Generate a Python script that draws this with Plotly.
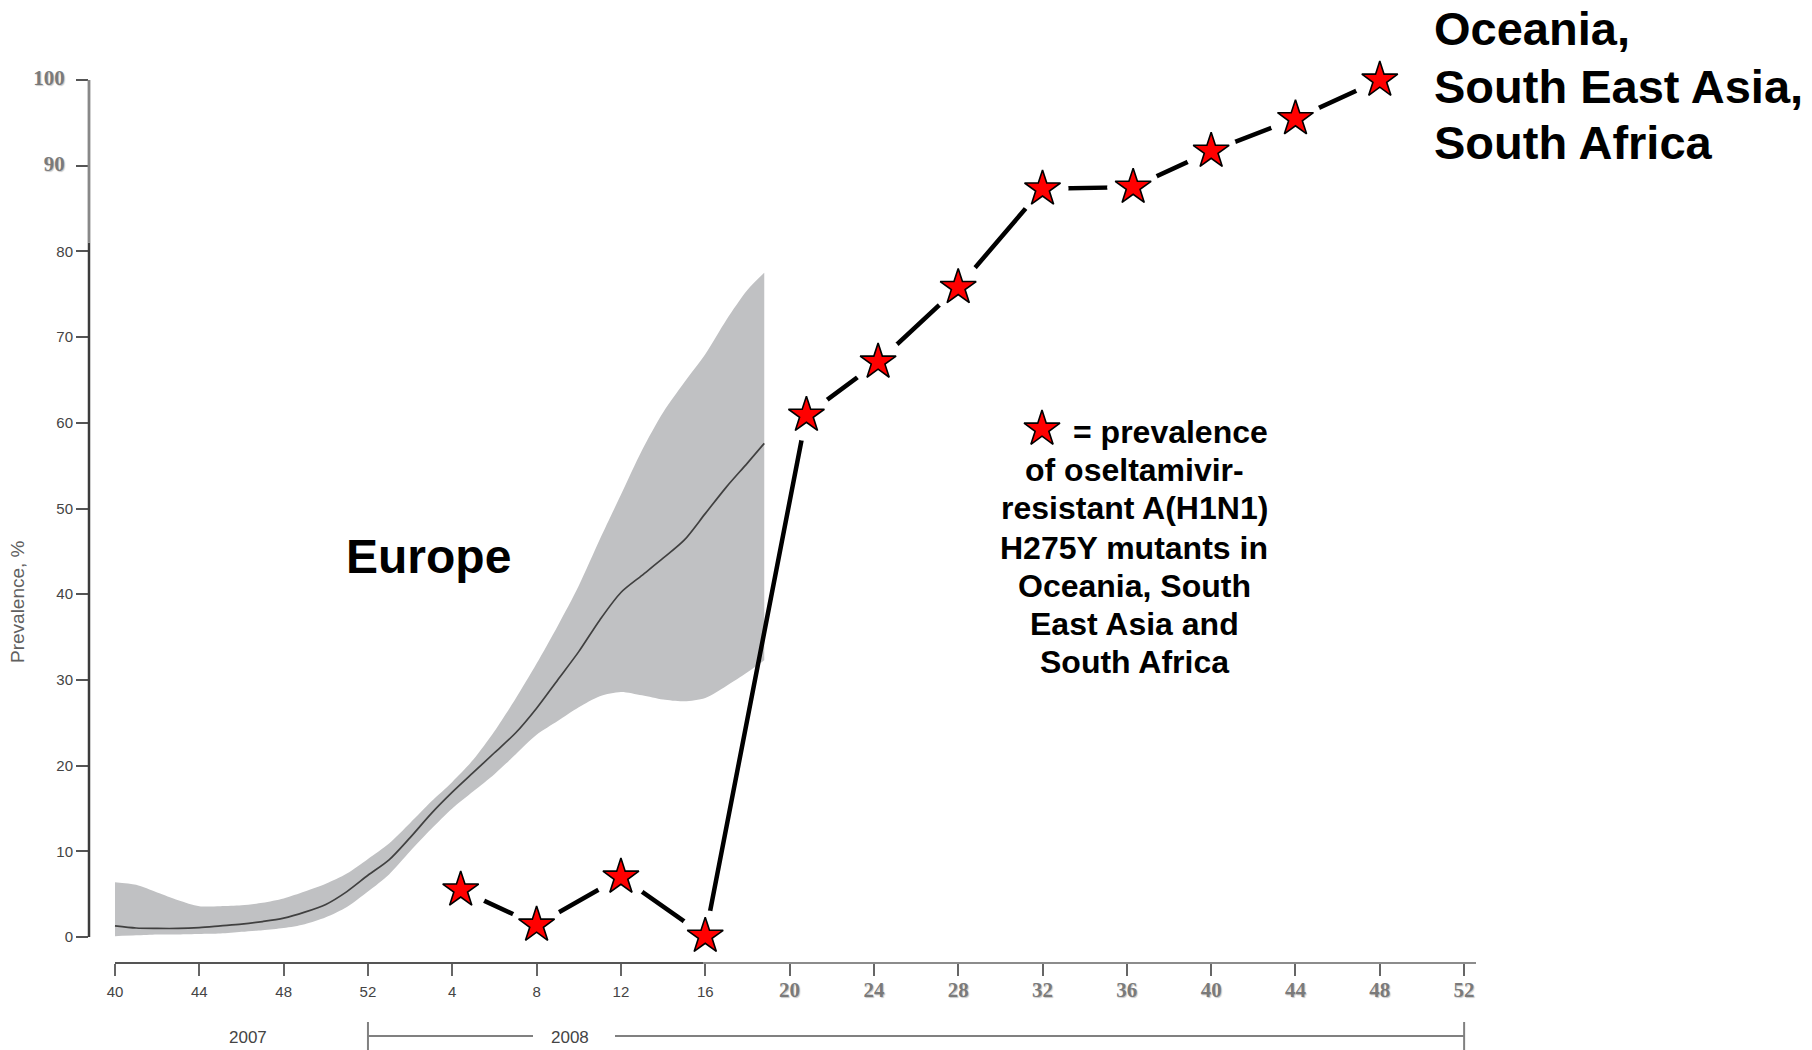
import plotly.graph_objects as go

# ------------------------------------------------------------------ data
x_tick_years = [2007, 2007, 2007, 2007] + [2008] * 13
x_tick_weeks = [40, 44, 48, 52, 4, 8, 12, 16, 20, 24, 28, 32, 36, 40, 44, 48, 52]
y_tick_values = [0, 10, 20, 30, 40, 50, 60, 70, 80, 90, 100]

# Europe: modelled prevalence (median and uncertainty band), %
europe_year = [2007] * 13 + [2008] * 19
europe_week = list(range(40, 53)) + list(range(1, 19)) + [18.8]
europe_upper = [6.4, 6.1, 5.2, 4.3, 3.6, 3.6, 3.7, 4.0, 4.5, 5.3, 6.2, 7.4, 9.1,
                10.9, 13.3, 15.8, 18.1, 20.7, 24.0, 27.8, 31.9, 36.3, 41.0, 46.4,
                51.6, 56.8, 61.2, 64.7, 68.0, 72.0, 75.5, 77.5]
europe_median = [1.3, 1.05, 1.0, 1.0, 1.1, 1.3, 1.5, 1.8, 2.2, 2.9, 3.8, 5.3, 7.2,
                 9.0, 11.6, 14.4, 16.9, 19.2, 21.5, 23.8, 26.7, 30.0, 33.3, 37.0,
                 40.2, 42.2, 44.2, 46.3, 49.4, 52.5, 55.3, 57.6]
europe_lower = [0.1, 0.2, 0.3, 0.3, 0.35, 0.4, 0.6, 0.8, 1.05, 1.5, 2.3, 3.5, 5.3,
                7.3, 10.0, 12.6, 15.0, 17.0, 19.0, 21.3, 23.6, 25.2, 26.8, 28.1,
                28.6, 28.2, 27.7, 27.5, 27.9, 29.3, 30.9, 32.3]

# Oceania, South East Asia, South Africa: observed prevalence (2008 weeks), %
star_year = [2008] * 12
star_week = [4.4, 8, 12, 16, 20.8, 24.2, 28, 32, 36.3, 40, 44, 48]
star_prevalence = [5.5, 1.4, 7.0, 0.1, 60.9, 67.1, 75.8, 87.3, 87.5, 91.7, 95.5, 100.0]


def week_index(year, week):
    """Continuous week scale starting at week 40 of 2007."""
    return (year - 2007) * 52 + week - 40


# ------------------------------------------------------------------ layout geometry
W, H = 1812, 1050
L, R, T, B = 89, 1476, 60, 963          # plot area in pixels
X_ORIGIN_PX, X_PX_PER_WEEK = 115, 21.08  # axis calibration
Y_ZERO_PX, Y_PX_PER_UNIT = 937, 8.57

x_range = [(L - X_ORIGIN_PX) / X_PX_PER_WEEK, (R - X_ORIGIN_PX) / X_PX_PER_WEEK]
y_range = [-(B - Y_ZERO_PX) / Y_PX_PER_UNIT, (Y_ZERO_PX - T) / Y_PX_PER_UNIT]


def px_x(px):
    return (px - L) / (R - L)


def px_y(py):
    return (B - py) / (B - T)


def y_to_paper(v):
    return (v - y_range[0]) / (y_range[1] - y_range[0])


def px_to_week(px):
    return (px - X_ORIGIN_PX) / X_PX_PER_WEEK


eu_x = [week_index(y, w) for y, w in zip(europe_year, europe_week)]
st_x = [week_index(y, w) for y, w in zip(star_year, star_week)]
tick_x = [week_index(y, w) for y, w in zip(x_tick_years, x_tick_weeks)]

SERIF = ("font-family:Liberation Serif;font-weight:bold;font-size:21px;"
         "color:#7a7a7a;text-shadow:1px 1px 1px #c8c8c8")

x_ticktext = []
for yv, wv in zip(x_tick_years, x_tick_weeks):
    if yv == 2008 and wv >= 20:
        x_ticktext.append(f'<span style="{SERIF}">{wv}</span>')
    else:
        x_ticktext.append(str(wv))

y_ticktext = []
for v in y_tick_values:
    if v >= 90:
        y_ticktext.append(f'<span style="{SERIF}">{v}</span>\u00a0\u00a0')
    else:
        y_ticktext.append(str(v))

fig = go.Figure()

# Europe band
fig.add_trace(go.Scatter(x=eu_x, y=europe_lower, mode="lines",
                         line=dict(width=0, shape="spline", smoothing=0.8),
                         hoverinfo="skip", showlegend=False))
fig.add_trace(go.Scatter(x=eu_x, y=europe_upper, mode="lines",
                         line=dict(width=0, shape="spline", smoothing=0.8),
                         fill="tonexty", fillcolor="#c0c1c3", showlegend=False))
fig.add_trace(go.Scatter(x=eu_x, y=europe_median, mode="lines",
                         line=dict(color="#404040", width=1.7, shape="spline", smoothing=0.8),
                         showlegend=False))

# Stars: connecting line, white gap mask, stars
fig.add_trace(go.Scatter(x=st_x, y=star_prevalence, mode="lines",
                         line=dict(color="black", width=4.5), showlegend=False,
                         cliponaxis=False))
fig.add_trace(go.Scatter(x=st_x, y=star_prevalence, mode="markers",
                         marker=dict(symbol="circle", size=52, color="white",
                                     line=dict(width=0)),
                         hoverinfo="skip", showlegend=False, cliponaxis=False))
fig.add_trace(go.Scatter(x=st_x, y=star_prevalence, mode="markers",
                         marker=dict(symbol="star", size=27, color="#ff0000",
                                     line=dict(color="black", width=1.6)),
                         showlegend=False, cliponaxis=False))

# legend key star (overlay axes in 0..1 units)
fig.add_trace(go.Scatter(x=[px_x(1042)], y=[px_y(429)], mode="markers",
                         marker=dict(symbol="star", size=27, color="#ff0000",
                                     line=dict(color="black", width=1.6)),
                         xaxis="x2", yaxis="y2", showlegend=False, cliponaxis=False))

shapes = [
    # y axis line
    dict(type="line", xref="paper", yref="paper", x0=0, x1=0,
         y0=y_to_paper(0), y1=y_to_paper(81),
         line=dict(color="#3c3c3c", width=2.5)),
    dict(type="line", xref="paper", yref="paper", x0=0, x1=0,
         y0=y_to_paper(81), y1=y_to_paper(100),
         line=dict(color="#888888", width=2.8)),
    # x axis line
    dict(type="line", xref="x", yref="paper", x0=0, x1=px_to_week(703), y0=0, y1=0,
         line=dict(color="#555555", width=2)),
    dict(type="line", xref="x", yref="paper", x0=px_to_week(703), x1=x_range[1], y0=0, y1=0,
         line=dict(color="#8c8c8c", width=2)),
    # 2008 bracket
    dict(type="line", xref="x", yref="paper", x0=week_index(2007, 52), x1=px_to_week(533),
         y0=px_y(1036), y1=px_y(1036), line=dict(color="#808080", width=2)),
    dict(type="line", xref="x", yref="paper", x0=px_to_week(615), x1=week_index(2008, 52),
         y0=px_y(1036), y1=px_y(1036), line=dict(color="#808080", width=2)),
    dict(type="line", xref="x", yref="paper", x0=week_index(2007, 52), x1=week_index(2007, 52),
         y0=px_y(1022), y1=px_y(1050), line=dict(color="#808080", width=2)),
    dict(type="line", xref="x", yref="paper", x0=week_index(2008, 52), x1=week_index(2008, 52),
         y0=px_y(1022), y1=px_y(1050), line=dict(color="#808080", width=2)),
]

SANS = "Liberation Sans"
annotations = [
    dict(text="<b>Europe</b>", x=px_x(428), y=px_y(556), xref="paper", yref="paper",
         showarrow=False, font=dict(family=SANS, size=48, color="black"),
         xanchor="center", yanchor="middle"),
    dict(text="Prevalence, %", x=px_x(17), y=px_y(602), xref="paper", yref="paper",
         showarrow=False, textangle=-90, font=dict(family=SANS, size=19, color="#606060"),
         xanchor="center", yanchor="middle"),
    dict(text="2007", x=px_x(248), y=px_y(1037), xref="paper", yref="paper",
         showarrow=False, font=dict(family=SANS, size=17, color="#444444"),
         xanchor="center", yanchor="middle"),
    dict(text="2008", x=px_x(570), y=px_y(1037), xref="paper", yref="paper",
         showarrow=False, font=dict(family=SANS, size=17, color="#444444"),
         xanchor="center", yanchor="middle"),
]

region_lines = ["Oceania,", "South East Asia,", "South Africa"]
for line, cy in zip(region_lines, [28, 86, 143]):
    annotations.append(dict(text=f"<b>{line}</b>", x=px_x(1432), y=px_y(cy),
                            xref="paper", yref="paper", showarrow=False,
                            font=dict(family=SANS, size=47, color="black"),
                            xanchor="left", yanchor="middle"))

key_lines = ["of oseltamivir-", "resistant A(H1N1)", "H275Y mutants in",
             "Oceania, South", "East Asia and", "South Africa"]
annotations.append(dict(text="<b>= prevalence</b>", x=px_x(1071), y=px_y(432),
                        xref="paper", yref="paper", showarrow=False,
                        font=dict(family=SANS, size=32, color="black"),
                        xanchor="left", yanchor="middle"))
for line, cy in zip(key_lines, [470, 508, 548, 586, 624, 662]):
    annotations.append(dict(text=f"<b>{line}</b>", x=px_x(1134), y=px_y(cy),
                            xref="paper", yref="paper", showarrow=False,
                            font=dict(family=SANS, size=32, color="black"),
                            xanchor="center", yanchor="middle"))

fig.update_layout(
    width=W, height=H,
    margin=dict(l=L, r=W - R, t=T, b=H - B, pad=0),
    paper_bgcolor="white", plot_bgcolor="white",
    showlegend=False,
    xaxis=dict(range=x_range, tickmode="array", tickvals=tick_x, ticktext=x_ticktext,
               showgrid=False, zeroline=False, showline=False,
               ticks="outside", ticklen=12, tickwidth=2, tickcolor="#666666",
               ticklabelstandoff=3,
               tickfont=dict(family=SANS, size=15, color="#444444")),
    yaxis=dict(range=y_range, tickmode="array", tickvals=y_tick_values, ticktext=y_ticktext,
               showgrid=False, zeroline=False, showline=False,
               ticks="outside", ticklen=12, tickwidth=2, tickcolor="#555555",
               tickfont=dict(family=SANS, size=15, color="#444444")),
    xaxis2=dict(range=[0, 1], overlaying="x", visible=False, fixedrange=True),
    yaxis2=dict(range=[0, 1], overlaying="y", visible=False, fixedrange=True),
    shapes=shapes,
    annotations=annotations,
)

fig.write_html("out.html", config={"displayModeBar": False},
               post_script="document.body.style.margin='0';document.body.style.overflow='hidden';")
